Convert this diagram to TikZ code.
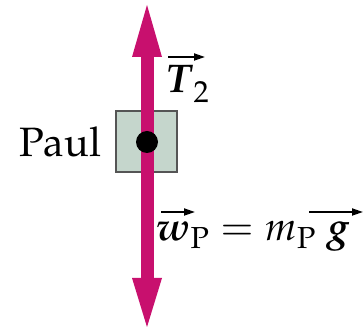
\documentclass[tikz,border=0pt]{standalone}
\usepackage[T1]{fontenc}
\usepackage{mathpazo}
\usepackage{amsmath}
\usetikzlibrary{arrows.meta}
\definecolor{forcecol}{RGB}{200,16,110}
\definecolor{boxfill}{RGB}{197,214,204}
\definecolor{boxline}{RGB}{85,85,85}
\begin{document}
\begin{tikzpicture}[x=1pt,y=-1pt,
  shaft/.style={line width=13pt, draw=forcecol},
  head/.style={fill=forcecol},
  body/.style={draw=boxline, fill=boxfill, line width=1.2pt},
  vecarrow/.style={line width=1.8pt, -{Triangle[length=11pt,width=7pt]}},
  lbl/.style={inner sep=0pt, anchor=base west, font=\fontsize{40}{48}\selectfont}]
\useasboundingbox (0,0) rectangle (364,328);
% block
\draw[body] (116,111) rectangle (177,172);
% force arrows
\coordinate (top) at (147,5);
\coordinate (topbase) at (147,57);
\coordinate (bot) at (147,327);
\coordinate (botbase) at (147,278);
\draw[shaft] ([yshift=1pt]topbase) -- ([yshift=-1pt]botbase);
\fill[head] (top) -- ([xshift=15pt]topbase) -- ([xshift=-15pt]topbase) -- cycle;
\fill[head] (bot) -- ([xshift=15pt]botbase) -- ([xshift=-15pt]botbase) -- cycle;
% center dot
\fill (147,142) circle (11);
% labels
\node[lbl, font=\fontsize{41}{48}\selectfont] (paul) at (19,157) {Paul};
\node[lbl] (T) at (165,93) {$\boldsymbol{T}_{\smash{\raisebox{-4pt}{$\scriptstyle 2$}}}$};
\node[lbl] (w) at (156,241) {$\boldsymbol{w}_{\mathrm{P}} = m_{\mathrm{P}}\;\boldsymbol{g}$};
% vector arrows
\coordinate (Ta) at (168,57); \coordinate (Tb) at (205,57);
\coordinate (wa) at (161,212); \coordinate (wb) at (195,212);
\coordinate (ga) at (309,212); \coordinate (gb) at (363,212);
\draw[vecarrow] (Ta) -- (Tb);
\draw[vecarrow] (wa) -- (wb);
\draw[vecarrow] (ga) -- (gb);
\end{tikzpicture}
\end{document}
